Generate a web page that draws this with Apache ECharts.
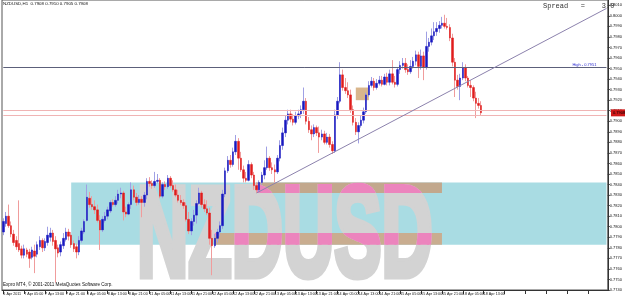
<!DOCTYPE html>
<html><head><meta charset="utf-8">
<script src="https://cdn.jsdelivr.net/npm/echarts@6/dist/echarts.min.js"></script>
<style>html,body{margin:0;padding:0;background:#fff}#c{width:625px;height:296px}</style>
</head><body><div id="c"></div>
<script>
// ---- data (NZDUSD H1) ----
const tickLabels = ['6 Apr 2011','7 Apr 05:00','7 Apr 13:00','7 Apr 21:00','8 Apr 05:00','8 Apr 13:00','8 Apr 21:00',
 '11 Apr 05:00','11 Apr 13:00','11 Apr 21:00','12 Apr 05:00','12 Apr 13:00','12 Apr 21:00','13 Apr 05:00','13 Apr 13:00',
 '13 Apr 21:00','14 Apr 05:00','14 Apr 13:00','14 Apr 21:00','15 Apr 05:00','15 Apr 13:00','15 Apr 21:00','18 Apr 05:00','18 Apr 13:00'];
const opens = [0.7795,0.7803,0.7810,0.7801,0.7793,0.7787,0.7784,0.7779,0.7773,0.7778,
 0.7776,0.7771,0.7777,0.7774,0.7781,0.7787,0.7780,0.7785,0.7790,0.7794,
 0.7787,0.7780,0.7776,0.7782,0.7788,0.7795,0.7792,0.7784,0.7781,0.7776,
 0.7787,0.7795,0.7806,0.7827,0.7821,0.7819,0.7816,0.7806,0.7797,0.7806,
 0.7810,0.7815,0.7823,0.7821,0.7825,0.7831,0.7832,0.7814,0.7812,0.7821,
 0.7835,0.7828,0.7823,0.7826,0.7823,0.7830,0.7843,0.7841,0.7839,0.7843,
 0.7844,0.7829,0.7840,0.7838,0.7846,0.7839,0.7835,0.7830,0.7825,0.7823,
 0.7820,0.7807,0.7796,0.7805,0.7811,0.7822,0.7832,0.7821,0.7817,0.7813,
 0.7789,0.7782,0.7789,0.7795,0.7801,0.7831,0.7853,0.7863,0.7859,0.7871,
 0.7881,0.7865,0.7854,0.7846,0.7844,0.7859,0.7849,0.7839,0.7835,0.7842,
 0.7849,0.7856,0.7865,0.7856,0.7854,0.7852,0.7865,0.7877,0.7889,0.7901,
 0.7907,0.7902,0.7899,0.7905,0.7907,0.7911,0.7919,0.7900,0.7892,0.7888,
 0.7894,0.7889,0.7885,0.7888,0.7880,0.7885,0.7878,0.7872,0.7906,0.7919,
 0.7944,0.7932,0.7929,0.7925,0.7911,0.7899,0.7890,0.7896,0.7901,0.7909,
 0.7925,0.7934,0.7938,0.7932,0.7936,0.7939,0.7935,0.7942,0.7937,0.7945,
 0.7937,0.7935,0.7949,0.7953,0.7955,0.7949,0.7947,0.7952,0.7957,0.7963,
 0.7952,0.7962,0.7951,0.7971,0.7975,0.7981,0.7985,0.7988,0.7991,0.7993,
 0.7990,0.7989,0.7979,0.7956,0.7939,0.7933,0.7941,0.7951,0.7941,0.7934,
 0.7932,0.7922,0.7917,0.7915];
const closes = [0.7805,0.7810,0.7801,0.7793,0.7785,0.7781,0.7778,0.7773,0.7779,0.7774,
 0.7770,0.7778,0.7772,0.7783,0.7787,0.7780,0.7786,0.7792,0.7794,0.7786,
 0.7779,0.7775,0.7783,0.7789,0.7795,0.7791,0.7783,0.7779,0.7776,0.7787,
 0.7796,0.7805,0.7828,0.7821,0.7819,0.7816,0.7806,0.7797,0.7807,0.7810,
 0.7816,0.7823,0.7821,0.7825,0.7831,0.7832,0.7814,0.7812,0.7821,0.7835,
 0.7828,0.7823,0.7826,0.7823,0.7830,0.7843,0.7841,0.7839,0.7843,0.7844,
 0.7829,0.7840,0.7838,0.7846,0.7839,0.7835,0.7830,0.7825,0.7823,0.7820,
 0.7807,0.7796,0.7805,0.7811,0.7822,0.7832,0.7821,0.7817,0.7813,0.7789,
 0.7782,0.7789,0.7795,0.7801,0.7831,0.7853,0.7863,0.7859,0.7871,0.7881,
 0.7865,0.7854,0.7846,0.7844,0.7859,0.7849,0.7839,0.7835,0.7842,0.7849,
 0.7856,0.7865,0.7856,0.7854,0.7852,0.7865,0.7877,0.7889,0.7901,0.7907,
 0.7902,0.7899,0.7905,0.7907,0.7911,0.7919,0.7900,0.7892,0.7888,0.7894,
 0.7889,0.7885,0.7888,0.7880,0.7885,0.7878,0.7872,0.7906,0.7919,0.7944,
 0.7932,0.7929,0.7925,0.7911,0.7899,0.7890,0.7896,0.7901,0.7909,0.7925,
 0.7934,0.7938,0.7932,0.7936,0.7939,0.7935,0.7942,0.7937,0.7945,0.7937,
 0.7935,0.7949,0.7953,0.7955,0.7949,0.7947,0.7952,0.7957,0.7963,0.7952,
 0.7962,0.7951,0.7971,0.7975,0.7981,0.7985,0.7988,0.7991,0.7993,0.7990,
 0.7989,0.7979,0.7956,0.7939,0.7933,0.7941,0.7951,0.7941,0.7934,0.7932,
 0.7922,0.7917,0.7915,0.7908];
const highs = [0.7808,0.7814,0.7821,0.7805,0.7797,0.7791,0.7825,0.7782,0.7783,0.7780,
 0.7779,0.7781,0.7783,0.7786,0.7791,0.7789,0.7789,0.7800,0.7799,0.7797,
 0.7791,0.7783,0.7786,0.7794,0.7799,0.7798,0.7795,0.7787,0.7784,0.7791,
 0.7799,0.7807,0.7840,0.7833,0.7829,0.7825,0.7821,0.7811,0.7810,0.7814,
 0.7819,0.7825,0.7826,0.7829,0.7835,0.7837,0.7834,0.7819,0.7823,0.7842,
 0.7839,0.7832,0.7830,0.7829,0.7833,0.7846,0.7847,0.7844,0.7852,0.7850,
 0.7846,0.7842,0.7843,0.7849,0.7848,0.7844,0.7840,0.7835,0.7830,0.7826,
 0.7823,0.7814,0.7808,0.7816,0.7825,0.7837,0.7834,0.7826,0.7825,0.7818,
 0.7797,0.7793,0.7798,0.7805,0.7835,0.7856,0.7867,0.7868,0.7875,0.7887,
 0.7884,0.7871,0.7858,0.7852,0.7863,0.7861,0.7852,0.7842,0.7844,0.7852,
 0.7863,0.7876,0.7867,0.7861,0.7859,0.7868,0.7882,0.7894,0.7905,0.7911,
 0.7911,0.7907,0.7909,0.7911,0.7915,0.7932,0.7922,0.7904,0.7896,0.7897,
 0.7896,0.7895,0.7892,0.7891,0.7889,0.7888,0.7881,0.7911,0.7923,0.7956,
 0.7949,0.7941,0.7937,0.7930,0.7915,0.7903,0.7899,0.7905,0.7913,0.7927,
 0.7938,0.7942,0.7941,0.7940,0.7943,0.7943,0.7945,0.7946,0.7949,0.7958,
 0.7943,0.7951,0.7957,0.7960,0.7960,0.7954,0.7958,0.7961,0.7967,0.7966,
 0.7968,0.7966,0.7985,0.7979,0.7988,0.7994,0.7994,0.7995,0.7999,0.8001,
 0.7998,0.7992,0.7983,0.7960,0.7944,0.7945,0.7956,0.7954,0.7943,0.7939,
 0.7934,0.7928,0.7922,0.7919];
const lows = [0.7792,0.7800,0.7799,0.7790,0.7782,0.7778,0.7776,0.7770,0.7770,0.7771,
 0.7761,0.7769,0.7756,0.7771,0.7778,0.7776,0.7777,0.7782,0.7786,0.7782,
 0.7747,0.7771,0.7772,0.7779,0.7786,0.7787,0.7780,0.7776,0.7770,0.7773,
 0.7785,0.7793,0.7805,0.7818,0.7816,0.7812,0.7804,0.7778,0.7795,0.7804,
 0.7807,0.7813,0.7819,0.7819,0.7822,0.7827,0.7806,0.7809,0.7811,0.7817,
 0.7825,0.7820,0.7821,0.7809,0.7819,0.7826,0.7838,0.7836,0.7837,0.7841,
 0.7827,0.7827,0.7835,0.7836,0.7837,0.7833,0.7828,0.7823,0.7821,0.7817,
 0.7805,0.7793,0.7792,0.7801,0.7803,0.7821,0.7818,0.7814,0.7811,0.7783,
 0.7754,0.7780,0.7785,0.7791,0.7798,0.7828,0.7851,0.7856,0.7857,0.7868,
 0.7854,0.7852,0.7842,0.7842,0.7843,0.7846,0.7835,0.7832,0.7833,0.7840,
 0.7845,0.7854,0.7853,0.7850,0.7842,0.7850,0.7862,0.7873,0.7885,0.7897,
 0.7899,0.7896,0.7897,0.7902,0.7903,0.7907,0.7897,0.7889,0.7882,0.7885,
 0.7886,0.7870,0.7882,0.7878,0.7878,0.7875,0.7869,0.7870,0.7902,0.7917,
 0.7929,0.7926,0.7922,0.7908,0.7896,0.7887,0.7879,0.7894,0.7898,0.7907,
 0.7923,0.7932,0.7929,0.7930,0.7934,0.7933,0.7934,0.7934,0.7934,0.7935,
 0.7932,0.7933,0.7945,0.7950,0.7946,0.7944,0.7945,0.7950,0.7953,0.7941,
 0.7949,0.7939,0.7949,0.7966,0.7972,0.7977,0.7981,0.7984,0.7988,0.7988,
 0.7987,0.7976,0.7952,0.7923,0.7930,0.7920,0.7939,0.7938,0.7932,0.7923,
 0.7919,0.7903,0.7912,0.7905];
// horizontal levels and chart objects (time index / price anchors)
const highLevel = 0.7951;
const pinkLevels = [0.7910, 0.7906];
const bidPrice = 0.7908;
const trendStart = [97, 0.7832];
const trendEnd = [231, 0.8007];
const cyanZone = [26, 231, 0.7842, 0.7783];
const tanZones = [[97, 168, 0.7842, 0.7832], [81, 168, 0.7794, 0.7783], [135, 140, 0.7932, 0.7920]];
const slotCount = 232;   // bars + empty right margin
const barsPerTick = 8;

// ---- build ----
const categories = [];
for (let i = 0; i < slotCount; i++) {
  categories.push(i % barsPerTick === 0 && tickLabels[i / barsPerTick] ? tickLabels[i / barsPerTick] : '');
}
const wickData = opens.map((o, i) => [o, closes[i], lows[i], highs[i]]);
const bodyData = opens.map((o, i) => [o, closes[i], Math.min(o, closes[i]), Math.max(o, closes[i])]);
const hLine = (v, color) => [{coord: [0, v], lineStyle: {color: color, width: 1, type: 'solid'}}, {coord: [slotCount - 1, v]}];

const FONT = '"Liberation Sans", Arial, sans-serif';
const chart = echarts.init(document.getElementById('c'), null, {renderer: 'canvas'});
const highItem = hLine(highLevel, '#5c607a');
highItem[0].label = {show: true, position: 'insideEndTop', distance: [10, 1], formatter: 'High - ' + highLevel.toFixed(4), fontSize: 4, color: '#2a2ad0', fontFamily: FONT};
const option = {
  animation: false,
  backgroundColor: '#ffffff',
  grid: {left: 2, right: 14, top: 0, bottom: 6, show: true, borderColor: '#555', borderWidth: 1, backgroundColor: 'transparent'},
  xAxis: {
    type: 'category', data: categories, boundaryGap: true,
    axisLine: {show: true, lineStyle: {color: '#333', width: 1}},
    axisTick: {show: true, interval: barsPerTick - 1, alignWithLabel: true, length: 4, lineStyle: {color: '#333'}},
    axisLabel: {show: true, interval: barsPerTick - 1, align: 'left', margin: 1.5, fontSize: 3.7, color: '#111', fontFamily: FONT},
    splitLine: {show: false}
  },
  yAxis: {
    type: 'value', position: 'right', min: 0.7740, max: 0.8015, interval: 0.001,
    axisLine: {show: true, lineStyle: {color: '#333'}},
    axisTick: {show: true, length: 2, lineStyle: {color: '#333'}},
    axisLabel: {show: true, showMaxLabel: false, margin: 2, fontSize: 4, color: '#111', fontFamily: FONT,
      formatter: v => v.toFixed(4)},
    splitLine: {show: false}
  },
  series: [
    {
      type: 'line', data: [], z: 1, silent: true,
      markArea: {
        silent: true, z: 1,
        data: [
          [{xAxis: cyanZone[0], yAxis: cyanZone[2], itemStyle: {color: '#a9dce3'}}, {xAxis: cyanZone[1], yAxis: cyanZone[3]}],
          [{xAxis: tanZones[0][0], yAxis: tanZones[0][2], itemStyle: {color: '#c2a88d'}}, {xAxis: tanZones[0][1], yAxis: tanZones[0][3]}],
          [{xAxis: tanZones[1][0], yAxis: tanZones[1][2], itemStyle: {color: '#c9ad90'}}, {xAxis: tanZones[1][1], yAxis: tanZones[1][3]}],
          [{xAxis: tanZones[2][0], yAxis: tanZones[2][2], itemStyle: {color: '#d9b68c'}}, {xAxis: tanZones[2][1], yAxis: tanZones[2][3]}]
        ]
      }
    },
    {
      type: 'candlestick', name: 'wick', data: wickData, z: 3, barWidth: 1, silent: true,
      itemStyle: {color: '#a0a0e4', color0: '#f09c9c', borderColor: '#a0a0e4', borderColor0: '#f09c9c', borderWidth: 1},
      markLine: {
        silent: true, symbol: 'none', z: 5,
        label: {show: false},
        data: [
          highItem,
          hLine(pinkLevels[0], '#f0b4b4'),
          hLine(pinkLevels[1], '#f0b4b4'),
          [{coord: trendStart, lineStyle: {color: '#8c82ad', width: 1, type: 'solid'}}, {coord: trendEnd}]
        ]
      }
    },
    {
      type: 'candlestick', name: 'body', data: bodyData, z: 4, barWidth: 2, silent: true,
      itemStyle: {color: '#1818c0', color0: '#e01c1c', borderColor: '#1818c0', borderColor0: '#e01c1c', borderWidth: 0.5}
    }
  ],
  graphic: [
    {type: 'text', left: 3, top: 2, z: 10, style: {text: 'NZDUSD,H1  0.7908 0.7910 0.7905 0.7908', font: '4.4px ' + FONT, fill: '#111'}},
    {type: 'text', left: 3, top: 282, z: 10, style: {text: 'Expro MT4, © 2001-2011 MetaQuotes Software Corp.', font: '4.6px ' + FONT, fill: '#111'}},
    {type: 'text', left: 543, top: 3, z: 10, style: {text: 'Spread   =    3.0', font: '7px "Liberation Mono", monospace', fill: '#333'}}
  ]
};
chart.setOption(option);

// watermark + price tag using library pixel conversion
const zr = chart.getZr();
const px = (x, y) => chart.convertToPixel({xAxisIndex: 0, yAxisIndex: 0}, [x, y]);
function watermark(color, clip) {
  const g = new echarts.graphic.Group();
  const t = new echarts.graphic.Text({
    x: 137, y: 241, scaleY: 1.8, z: 2, silent: true,
    style: {text: 'NZDUSD', font: 'bold 71px "Liberation Sans", Arial, sans-serif', fill: color,
      stroke: color, lineWidth: 4, verticalAlign: 'middle', align: 'left'}
  });
  g.add(t);
  if (clip) g.setClipPath(new echarts.graphic.Rect({shape: clip}));
  zr.add(g);
}
watermark('#d3d3d3', null);
[tanZones[0], tanZones[1]].forEach(z => {
  const a = px(z[0], z[2]), b = px(z[1], z[3]);
  watermark('#ec84bd', {x: a[0], y: a[1], width: b[0] - a[0], height: b[1] - a[1]});
});
const bp = px(0, bidPrice);
zr.add(new echarts.graphic.Rect({shape: {x: 611, y: bp[1] - 3.5, width: 14, height: 7}, style: {fill: '#d01818'}, z: 10}));
zr.add(new echarts.graphic.Text({x: 613, y: bp[1], z: 11, style: {text: bidPrice.toFixed(4), font: '4px ' + FONT, fill: '#000', verticalAlign: 'middle'}}));
</script>
</body></html>
